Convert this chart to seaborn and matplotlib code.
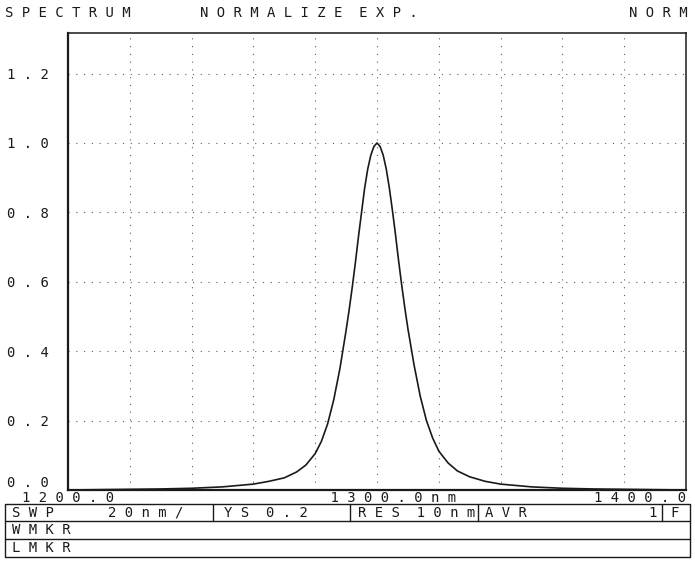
import matplotlib
matplotlib.use("Agg")
import matplotlib.pyplot as plt
import seaborn as sns
import pandas as pd

# spectrum (nm, normalised level)
wavelength_nm = [1200, 1210, 1220, 1230, 1240, 1250, 1260, 1265, 1270, 1274, 1277,
                 1280, 1282, 1284, 1286, 1288, 1290, 1291, 1292, 1293, 1294, 1295,
                 1296, 1297, 1298, 1299, 1300, 1301, 1302, 1303, 1304, 1305, 1306,
                 1307, 1308, 1309, 1310, 1312, 1314, 1316, 1318, 1320, 1323, 1326,
                 1330, 1335, 1340, 1350, 1360, 1370, 1380, 1390, 1400]
level = [0.000, 0.001, 0.002, 0.003, 0.005, 0.009, 0.017, 0.025, 0.035, 0.052, 0.072,
         0.105, 0.140, 0.190, 0.260, 0.350, 0.460, 0.520, 0.585, 0.655, 0.730, 0.800,
         0.870, 0.925, 0.965, 0.990, 1.000, 0.990, 0.965, 0.925, 0.870, 0.805, 0.735,
         0.660, 0.590, 0.525, 0.465, 0.360, 0.270, 0.200, 0.150, 0.112, 0.078, 0.055,
         0.038, 0.025, 0.017, 0.009, 0.005, 0.003, 0.002, 0.001, 0.000]

x_ticks = [1200, 1300, 1400]
x_tick_labels = ["1200.0", "1300.0nm", "1400.0"]
y_ticks = [0.0, 0.2, 0.4, 0.6, 0.8, 1.0, 1.2]
y_tick_labels = ["0.0", "0.2", "0.4", "0.6", "0.8", "1.0", "1.2"]
grid_x = [1220, 1240, 1260, 1280, 1300, 1320, 1340, 1360, 1380]

header_left = "SPECTRUM"
header_mid = "NORMALIZE EXP."
header_right = "NORM"
status_cells = [("SWP", 12), ("20nm/", 108), ("YS", 224), ("0.2", 266),
                ("RES 10nm", 358), ("AVR", 485), ("1", 648), ("F", 670)]
marker_rows = ["WMKR", "LMKR"]

MONO = "DejaVu Sans Mono"
INK = "#1a1a1a"


def spaced(s):
    # instrument dot-matrix font has wide letter spacing
    return " ".join(s).replace("   ", "  ")


sns.set_style("white")
plt.rcParams["font.family"] = [MONO, "DejaVu Sans"]

W, H = 695, 567
fig = plt.figure(figsize=(W / 100, H / 100), dpi=100)
ax = fig.add_axes([68 / W, 1 - 490 / H, (686 - 68) / W, (490 - 33) / H])

df = pd.DataFrame({"wavelength": wavelength_nm, "level": level})
sns.lineplot(data=df, x="wavelength", y="level", color=INK, linewidth=1.2, ax=ax)

ax.set_xlim(1200, 1400)
ax.set_ylim(0, 1.317)
ax.set_xlabel("")
ax.set_ylabel("")

for gx in grid_x:
    ax.axvline(gx, color=INK, linestyle=(0, (1, 6)), linewidth=0.8, alpha=0.7)
for gy in y_ticks[1:]:
    ax.axhline(gy, color=INK, linestyle=(0, (1, 6)), linewidth=0.8, alpha=0.7)

ax.set_yticks(y_ticks)
ax.set_yticklabels([spaced(t) for t in y_tick_labels], fontsize=10, color=INK)
ax.set_xticks(x_ticks)
xl = [spaced(t) for t in x_tick_labels]
xl[1] = "    " + xl[1]  # keep the number centred, unit hangs to the right
ax.set_xticklabels(xl, fontsize=10, color=INK)
ax.tick_params(axis="y", length=0, pad=14)
ax.tick_params(axis="x", length=0, pad=1)
ax.get_yticklabels()[0].set_va("bottom")  # bottom label sits above the x labels
lbls = ax.get_xticklabels()
lbls[0].set_ha("center")
lbls[2].set_ha("right")

for side in ["left", "bottom"]:
    ax.spines[side].set_linewidth(1.6)
for side in ["top", "right"]:
    ax.spines[side].set_linewidth(1.1)
for s in ax.spines.values():
    s.set_color(INK)

# overlay in pixel units for the instrument header / status boxes
ov = fig.add_axes([0, 0, 1, 1], facecolor="none")
ov.set_xlim(0, W)
ov.set_ylim(H, 0)
ov.axis("off")

ov.text(5, 13, spaced(header_left), fontsize=10, color=INK, va="center", ha="left")
ov.text(200, 13, spaced(header_mid), fontsize=10, color=INK, va="center", ha="left")
ov.text(688, 13, spaced(header_right), fontsize=10, color=INK, va="center", ha="right")

box_kw = dict(color=INK, linewidth=1.0)
for yy in [504, 521, 539, 557]:
    ov.plot([5, 690], [yy, yy], **box_kw)
ov.plot([5, 5], [504, 557], **box_kw)
ov.plot([690, 690], [504, 557], **box_kw)
for xx in [213, 350, 478, 662]:
    ov.plot([xx, xx], [504, 521], **box_kw)

for txt, xx in status_cells:
    ov.text(xx, 513, spaced(txt), fontsize=10, color=INK, va="center", ha="left")
for i, txt in enumerate(marker_rows):
    ov.text(12, 530 + 18 * i, spaced(txt), fontsize=10, color=INK, va="center", ha="left")

fig.savefig("out.png", dpi=100)
